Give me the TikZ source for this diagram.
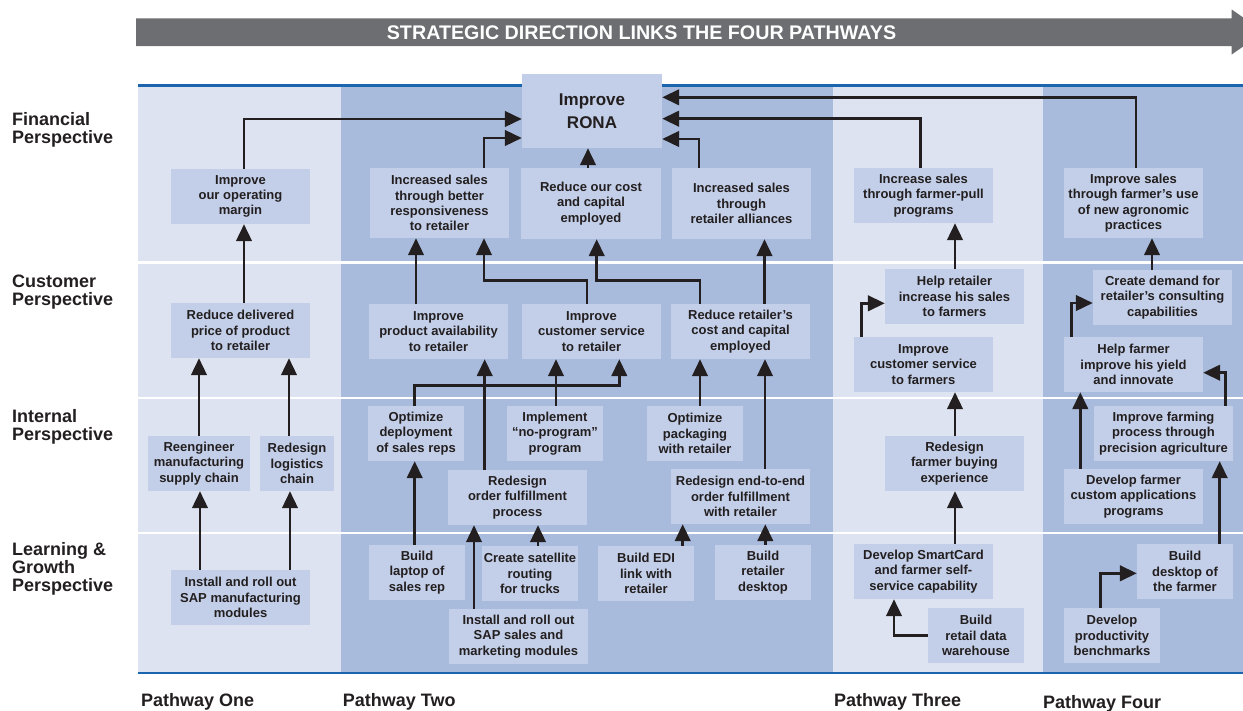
\documentclass[tikz,border=0pt]{standalone}
\usepackage{fontspec}
\setmainfont{Liberation Sans}
\usetikzlibrary{arrows.meta}
\definecolor{bannergrey}{HTML}{6D6E71}
\definecolor{lanelight}{HTML}{DDE3F0}
\definecolor{lanedark}{HTML}{A9BBDC}
\definecolor{boxfill}{HTML}{C3CFE8}
\definecolor{ruleblue}{HTML}{1B64AE}
\definecolor{ink}{HTML}{231F20}

\begin{document}
\begin{tikzpicture}[x=1pt,y=-1pt,
  box/.style={fill=boxfill, inner sep=0pt, align=center, text=ink,
    font=\fontsize{13}{15.3}\selectfont\bfseries},
  wide/.style={box, minimum width=139pt, minimum height=55pt},
  tall/.style={box, minimum width=139pt, minimum height=70pt},
  narrow/.style={box, minimum width=96pt, minimum height=55pt},
  link/.style={draw=ink, line width=2.8pt, -{Triangle[length=17pt,width=15.5pt]}},
  persp/.style={anchor=base west, align=left, inner sep=0pt, text=ink,
    font=\fontsize{18}{17.8}\selectfont\bfseries},
  lanerule/.style={white, line width=2.5pt},
  edge rule/.style={ruleblue, line width=2.5pt}
]
\useasboundingbox (0,0) rectangle (1243,710);
\clip (0,0) rectangle (1243,710);

% lanes of the four pathways
\fill[lanelight] (138,86) rectangle (341,672);
\fill[lanedark]  (341,86) rectangle (833,672);
\fill[lanelight] (833,86) rectangle (1043,672);
\fill[lanedark]  (1043,86) rectangle (1243,672);
\draw[lanerule] (138,262.5) -- (1243,262.5);
\draw[lanerule] (138,398) -- (1243,398);
\draw[lanerule] (138,533) -- (1243,533);
\draw[edge rule] (138,85.5) -- (1243,85.5);
\draw[edge rule] (138,672.8) -- (1243,672.8);

% banner arrow
\fill[bannergrey] (136,18.3) -- (1231.7,18.3) -- (1231.7,9.5) -- (1264,32)
  -- (1231.7,54.5) -- (1231.7,46) -- (136,46) -- cycle;
\node[font=\fontsize{19.7}{20}\selectfont\bfseries, text=white, anchor=base, inner sep=0pt]
  (title) at (641.5,39.3) {STRATEGIC DIRECTION LINKS THE FOUR PATHWAYS};

% perspective labels (anchored at the baseline of the last line)
\node[persp] (fin)  at (12,143.3) {Financial\\Perspective};
\node[persp] (cus)  at (12,305.7) {Customer\\Perspective};
\node[persp] (int)  at (12,440)   {Internal\\Perspective};
\node[persp] (lrn)  at (12,591)   {Learning \&\\Growth\\Perspective};

% pathway labels
\node[persp] (p1) at (141,706)   {Pathway One};
\node[persp] (p2) at (342.7,706) {Pathway Two};
\node[persp] (p3) at (834,706)   {Pathway Three};
\node[persp] (p4) at (1043,708)  {Pathway Four};

% Pathway One
\node[wide] (margin) at (240.5,196.5) {Improve\\our operating\\margin};
\node[wide] (reduce) at (240.5,330.5) {Reduce delivered\\price of product\\to retailer};
\node[box, minimum width=102pt, minimum height=55pt] (reeng) at (199,463.5) {Reengineer\\manufacturing\\supply chain};
\node[box, minimum width=74pt, minimum height=55pt] (logist) at (297,463.5) {Redesign\\logistics\\chain};
\node[wide] (sapman) at (240.5,597.5) {Install and roll out\\SAP manufacturing\\modules};

% Pathway Two
\node[box, minimum width=140pt, minimum height=74pt, font=\fontsize{17}{23}\selectfont\bfseries]
  (rona) at (592,111) {Improve\\RONA};
\node[tall] (resp) at (439.5,203) {Increased sales\\through better\\responsiveness\\to retailer};
\node[box, minimum width=140pt, minimum height=71pt] (cost) at (591,203.5) {Reduce our cost\\and capital\\employed};
\node[box, minimum width=139pt, minimum height=71pt] (alli) at (741.5,203.5) {Increased sales\\through\\retailer alliances};
\node[wide] (avail) at (438.5,331.5) {Improve\\product availability\\to retailer};
\node[wide] (custsvc) at (591.5,331.5) {Improve\\customer service\\to retailer};
\node[wide] (rcost) at (740.5,331.5) {Reduce retailer's\\cost and capital\\employed};
\node[narrow] (optdep) at (416,433.5) {Optimize\\deployment\\of sales reps};
\node[narrow] (noprog) at (555,433.5) {Implement\\“no-program”\\program};
\node[narrow] (optpack) at (695,433.5) {Optimize\\packaging\\with retailer};
\node[wide] (redord) at (517.5,497.5) {Redesign\\order fulfillment\\process};
\node[wide] (redeto) at (740.5,496.5) {Redesign end-to-end\\order fulfillment\\with retailer};
\node[narrow] (laptop) at (417,572.5) {Build\\laptop of\\sales rep};
\node[narrow] (satel) at (530,573.5) {Create satellite\\routing\\for trucks};
\node[narrow] (edi) at (646,573.5) {Build EDI\\link with\\retailer};
\node[narrow] (rdesk) at (763,572.5) {Build\\retailer\\desktop};
\node[wide] (sapsales) at (518.5,636.5) {Install and roll out\\SAP sales and\\marketing modules};

% Pathway Three
\node[wide] (pull) at (923.5,195.5) {Increase sales\\through farmer-pull\\programs};
\node[wide] (helpret) at (954.5,296.5) {Help retailer\\increase his sales\\to farmers};
\node[wide] (custfarm) at (923.5,364.5) {Improve\\customer service\\to farmers};
\node[wide] (buying) at (954.5,463.5) {Redesign\\farmer buying\\experience};
\node[wide] (smart) at (923.5,571.5) {Develop SmartCard\\and farmer self-\\service capability};
\node[narrow] (warehouse) at (976,635.5) {Build\\retail data\\warehouse};

% Pathway Four
\node[tall] (agro) at (1133.5,203) {Improve sales\\through farmer’s use\\of new agronomic\\practices};
\node[wide] (demand) at (1162.5,297.5) {Create demand for\\retailer’s consulting\\capabilities};
\node[wide] (helpfarm) at (1133.5,364.5) {Help farmer\\improve his yield\\and innovate};
\node[wide] (precision) at (1163.5,433.5) {Improve farming\\process through\\precision agriculture};
\node[wide] (custapp) at (1133.5,496.5) {Develop farmer\\custom applications\\programs};
\node[narrow] (fdesk) at (1185,571.5) {Build\\desktop of\\the farmer};
\node[narrow] (bench) at (1112,635.5) {Develop\\productivity\\benchmarks};

% links, Pathway One
\draw[link] ([xshift=-40.5pt]sapman.north) -- ([xshift=1pt]reeng.south);
\draw[link] ([xshift=49.5pt]sapman.north) -- ([xshift=-7pt]logist.south);
\draw[link] (reeng.north) -- ([xshift=-41.5pt]reduce.south);
\draw[link] ([xshift=-8pt]logist.north) -- ([xshift=48.5pt]reduce.south);
\draw[link] ([xshift=3.5pt]reduce.north) -- ([xshift=3.5pt]margin.south);
\draw[link] ([xshift=3.5pt]margin.north) |- ([yshift=-8pt]rona.west);

% links, Pathway Two
\draw[link] ([xshift=44.5pt]resp.north) |- ([yshift=-27pt]rona.west);
\draw[link] ([xshift=-3pt]cost.north) -- ([xshift=-4pt]rona.south);
\draw[link] ([xshift=-42.5pt]alli.north) |- ([yshift=-28pt]rona.east);
\draw[link] ([xshift=-22.5pt]avail.north) -- ([xshift=-23.5pt]resp.south);
\draw[link] ([xshift=-4.5pt]custsvc.north) -- ++(0,-23) -| ([xshift=44.5pt]resp.south);
\draw[link] ([xshift=-40.5pt]rcost.north) -- ++(0,-23) -| ([xshift=5.7pt]cost.south);
\draw[link] ([xshift=24pt]rcost.north) -- ([xshift=23pt]alli.south);
\draw[link] ([xshift=-1.3pt]optdep.north) -- ++(0,-20) -| ([xshift=27.8pt]custsvc.south);
\draw[link] ([xshift=1pt]noprog.north) -- ([xshift=-35.5pt]custsvc.south);
\draw[link] ([xshift=-32.8pt]redord.north) -- ([xshift=46.2pt]avail.south);
\draw[link] ([xshift=5pt]optpack.north) -- ([xshift=-40.5pt]rcost.south);
\draw[link] ([xshift=24.5pt]redeto.north) -- ([xshift=24.5pt]rcost.south);
\draw[link] ([xshift=-2.3pt]laptop.north) -- ([xshift=-1.3pt]optdep.south);
\draw[link] ([xshift=-44.5pt]sapsales.north) -- ([xshift=-43.5pt]redord.south);
\draw[link] ([xshift=8pt]satel.north) -- ([xshift=20.5pt]redord.south);
\draw[link] ([xshift=36.7pt]edi.north) -- ([xshift=-57.8pt]redeto.south);
\draw[link] ([xshift=2.3pt]rdesk.north) -- ([xshift=24.8pt]redeto.south);

% links, Pathway Three
\draw[link] ([xshift=-2.8pt]pull.north) |- ([yshift=-7.7pt]rona.east);
\draw[link] ([xshift=0.5pt]helpret.north) -- ([xshift=31.5pt]pull.south);
\draw[link] ([xshift=-61.8pt]custfarm.north) |- ([yshift=-6.8pt]helpret.west);
\draw[link] ([xshift=0.5pt]buying.north) -- ([xshift=31.5pt]custfarm.south);
\draw[link] ([xshift=31.5pt]smart.north) -- ([xshift=0.5pt]buying.south);
\draw[link] (warehouse.west) -| ([xshift=-29.5pt]smart.south);

% links, Pathway Four
\draw[link] ([xshift=2.5pt]agro.north) |- ([yshift=13.7pt]rona.east);
\draw[link] ([xshift=-10.5pt]demand.north) -- ([xshift=18.5pt]agro.south);
\draw[link] ([xshift=-61.8pt]helpfarm.north) |- ([yshift=-5.5pt]demand.west);
\draw[link] ([xshift=-53.2pt]custapp.north) -- ([xshift=-53.2pt]helpfarm.south);
\draw[link] ([xshift=62.2pt]precision.north) |- ([yshift=-8.2pt]helpfarm.east);
\draw[link] ([xshift=34.7pt]fdesk.north) -- ([xshift=56.2pt]precision.south);
\draw[link] ([xshift=-11.3pt]bench.north) |- ([yshift=-1.8pt]fdesk.west);
\end{tikzpicture}
\end{document}
